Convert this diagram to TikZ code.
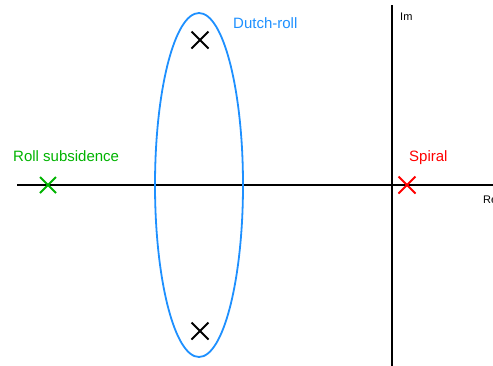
\documentclass[tikz,border=0pt]{standalone}
\usepackage{fontspec}
\setmainfont{Liberation Sans}
\usetikzlibrary{shapes.misc,shapes.geometric,positioning}
\definecolor{DRBlue}{HTML}{1E90FF}
\definecolor{RSGreen}{HTML}{00B300}
\definecolor{SPRed}{HTML}{FF0000}
\begin{document}
\begin{tikzpicture}[x=1pt,y=-1pt,
  axis/.style={line width=1.8pt},
  pole/.style={cross out,draw,line width=1.8pt,minimum size=17pt,inner sep=0pt,outer sep=0pt},
  mode/.style={font=\fontsize{15}{17}\selectfont,inner sep=0pt,anchor=base west},
  axlabel/.style={font=\fontsize{11}{13}\selectfont,inner sep=0pt,anchor=base west}
]
\useasboundingbox (0,0) rectangle (493,365);
% axes
\coordinate (re0) at (17,185);
\coordinate (re1) at (500,185);
\coordinate (im0) at (392,5);
\coordinate (im1) at (392,370);
\draw[axis] (re0) -- (re1);
\draw[axis] (im0) -- (im1);
\node[axlabel] (im) at (400,20) {Im};
\node[axlabel] (re) at (483,203) {Re};
% Dutch-roll pair
\node[draw=DRBlue,ellipse,line width=1.8pt,minimum width=88pt,minimum height=344pt,inner sep=0pt] (dr) at (199,185) {};
\node[pole] (dr1) at (200,40) {};
\node[pole] (dr2) at (200,331) {};
\node[mode,text=DRBlue] (drlab) at (233,28) {Dutch-roll};
% roll subsidence
\node[pole,draw=RSGreen,minimum size=16pt] (rs) at (48,185) {};
\node[mode,text=RSGreen] (rslab) at (13,161) {Roll subsidence};
% spiral
\node[pole,draw=SPRed] (sp) at (407,185) {};
\node[mode,text=SPRed] (splab) at (409,161) {Spiral};
\end{tikzpicture}
\end{document}
